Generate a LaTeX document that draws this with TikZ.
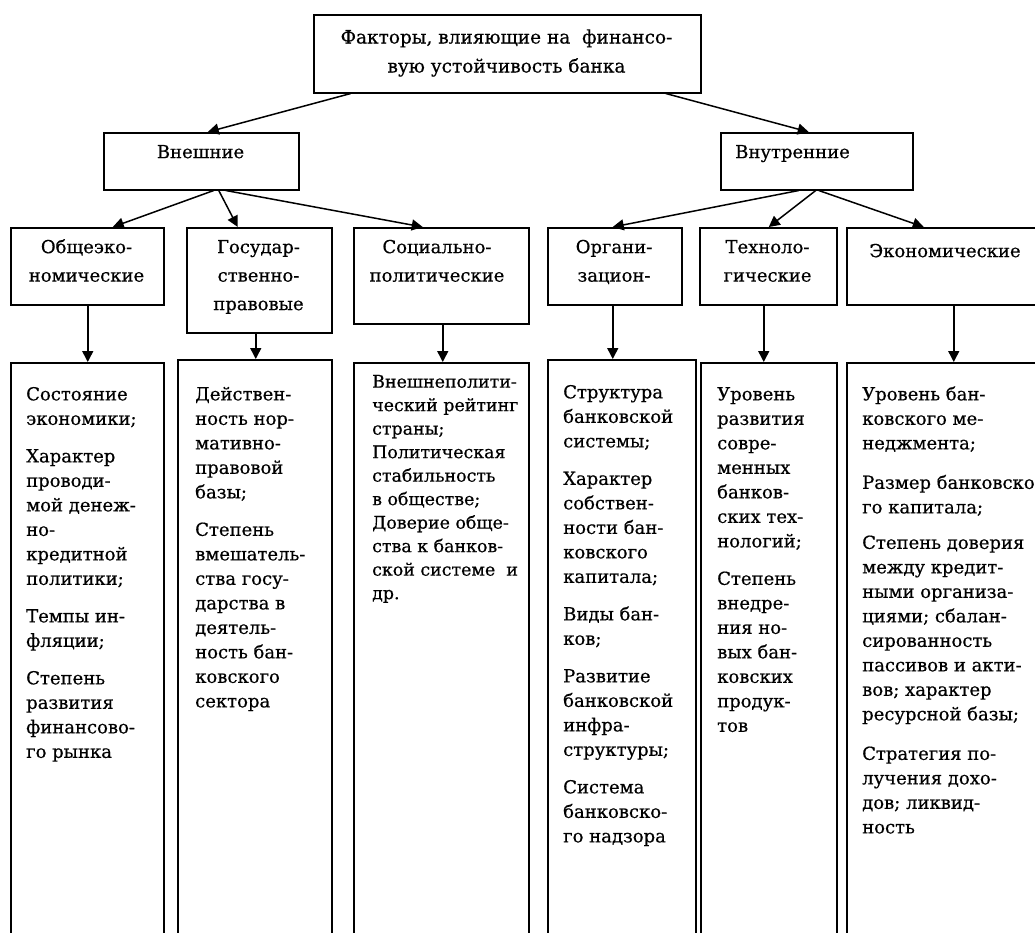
\documentclass[tikz,border=0pt]{standalone}
\usepackage{fontspec}
\setmainfont[FakeBold=0.5]{DejaVu Serif}
\usetikzlibrary{arrows.meta,calc}

% fonts: header lines and list lines
\newcommand\hdfont{\fontsize{18}{28.5}\selectfont}
\newcommand\ttlfont{\fontsize{18.5}{29}\selectfont}
\newcommand\bdfont{\fontsize{18}{24.5}\selectfont}
\newcommand\bdtight{\fontsize{17.4}{23.5}\selectfont}

\tikzset{
  frame/.style={draw, line width=1.5pt, rectangle, inner sep=0pt, anchor=north west},
  conn/.style={line width=1.5pt, -{Triangle[length=11pt,width=11pt]}},
  head/.style={inner sep=0pt, align=center, font=\hdfont, anchor=north},
  body/.style={inner sep=0pt, align=left, font=\bdfont, anchor=north west},
}

\begin{document}
\begin{tikzpicture}[x=1pt, y=-1pt]
\useasboundingbox (0,0) rectangle (1035,932);
\clip (0,0) rectangle (1035,932);
\fill[white] (0,0) rectangle (1035,932);

% ---- root ----
\node[frame, minimum width=387pt, minimum height=78pt] (top) at (313,14) {};
\node[head, font=\ttlfont] (toptxt) at (506.5,23) {\strut Факторы, влияющие на \ финансо-\\вую устойчивость банка};

% ---- two groups ----
\node[frame, minimum width=195pt, minimum height=57pt] (ext) at (103,132) {};
\node[head] (exttxt) at (200.5,138) {\strut Внешние};
\node[frame, minimum width=192pt, minimum height=57pt] (int) at (720,132) {};
\node[head, anchor=north west] (inttxt) at (735,138) {\strut Внутренние};

% ---- factor categories ----
\node[frame, minimum width=153pt, minimum height=77pt] (oe) at (10,227) {};
\node[frame, minimum width=145pt, minimum height=105pt] (gp) at (186,227) {};
\node[frame, minimum width=175pt, minimum height=96pt] (sp) at (353,227) {};
\node[frame, minimum width=134pt, minimum height=77pt] (org) at (547,227) {};
\node[frame, minimum width=137pt, minimum height=77pt] (tech) at (699,227) {};
\node[frame, minimum width=198pt, minimum height=77pt] (econ) at (846,227) {};

\node[head] (oetxt) at (86.5,233) {\strut Общеэко-\\номические};
\node[head] (gptxt) at (258.5,233) {\strut Государ-\\ственно-\\правовые};
\node[head] (sptxt) at (437,233) {\strut Социально-\\политические};
\node[head] (orgtxt) at (614,233) {\strut Органи-\\зацион-};
\node[head] (techtxt) at (767.5,233) {\strut Техноло-\\гические};
\node[head] (econtxt) at (945,237) {\strut Экономические};

% ---- detail columns (open at the bottom) ----
\node[frame, minimum width=153pt, minimum height=583pt] (b1) at (10,362) {};
\node[frame, minimum width=154pt, minimum height=586pt] (b2) at (177,359) {};
\node[frame, minimum width=175pt, minimum height=583pt] (b3) at (353,362) {};
\node[frame, minimum width=148pt, minimum height=586pt] (b4) at (547,359) {};
\node[frame, minimum width=136pt, minimum height=583pt] (b5) at (700,362) {};
\node[frame, minimum width=198pt, minimum height=583pt] (b6) at (846,362) {};

\node[body] (t1) at (26,383) {\strut Состояние\\экономики;\\[13pt]Характер\\проводи-\\мой денеж-\\но-\\кредитной\\политики;\\[13pt]Темпы ин-\\фляции;\\[13pt]Степень\\развития\\финансово-\\го рынка};
\node[body] (t2) at (195,383) {\strut Действен-\\ность нор-\\мативно-\\правовой\\базы;\\[13pt]Степень\\вмешатель-\\ства госу-\\дарства в\\деятель-\\ность бан-\\ковского\\сектора};
\node[body, font=\bdtight] (t3) at (372,371) {\strut Внешнеполити-\\ческий рейтинг\\страны;\\Политическая\\стабильность\\в обществе;\\Доверие обще-\\ства к банков-\\ской системе \ и\\др.};
\node[body] (t4) at (563,381) {\strut Структура\\банковской\\системы;\\[13pt]Характер\\собствен-\\ности бан-\\ковского\\капитала;\\[13pt]Виды бан-\\ков;\\[13pt]Развитие\\банковской\\инфра-\\структуры;\\[13pt]Система\\банковско-\\го надзора};
\node[body] (t5) at (717,383) {\strut Уровень\\развития\\совре-\\менных\\банков-\\ских тех-\\нологий;\\[13pt]Степень\\внедре-\\ния но-\\вых бан-\\ковских\\продук-\\тов};
\node[body] (t6) at (862,383) {\strut Уровень бан-\\ковского ме-\\неджмента;\\[15pt]Размер банковско-\\го капитала;\\[11pt]Степень доверия\\между кредит-\\ными организа-\\циями; сбалан-\\сированность\\пассивов и акти-\\вов; характер\\ресурсной базы;\\[15pt]Стратегия по-\\лучения дохо-\\дов; ликвид-\\ность};

% ---- connectors ----
\draw[conn] ([xshift=-156.5pt]top.south) -- ([xshift=6.5pt]ext.north);
\draw[conn] ([xshift=158.5pt]top.south) -- ([xshift=-8pt]int.north);

\draw[conn] ([xshift=12.5pt]ext.south) -- ([xshift=25.5pt]oe.north);
\draw[conn] ([xshift=17.5pt]ext.south) -- ([xshift=-21.5pt]gp.north);
\draw[conn] ([xshift=24.5pt]ext.south) -- ([xshift=-18.5pt]sp.north);

\draw[conn] ([xshift=-18pt]int.south) -- ([xshift=-2pt]org.north);
\draw[conn] ([xshift=-1pt]int.south) -- ([xshift=0.5pt]tech.north);
\draw[conn] ([xshift=2pt]int.south) -- ([xshift=-22pt]econ.north);

\draw[conn] ([xshift=0.5pt]oe.south) -- ([xshift=0.5pt]oe.south |- b1.north);
\draw[conn] ([xshift=-3.5pt]gp.south) -- ([xshift=-3.5pt]gp.south |- b2.north);
\draw[conn] ([xshift=1.5pt]sp.south) -- ([xshift=1.5pt]sp.south |- b3.north);
\draw[conn] ([xshift=-2pt]org.south) -- ([xshift=-2pt]org.south |- b4.north);
\draw[conn] ([xshift=-4.5pt]tech.south) -- ([xshift=-4.5pt]tech.south |- b5.north);
\draw[conn] ([xshift=8pt]econ.south) -- ([xshift=8pt]econ.south |- b6.north);
\end{tikzpicture}
\end{document}
